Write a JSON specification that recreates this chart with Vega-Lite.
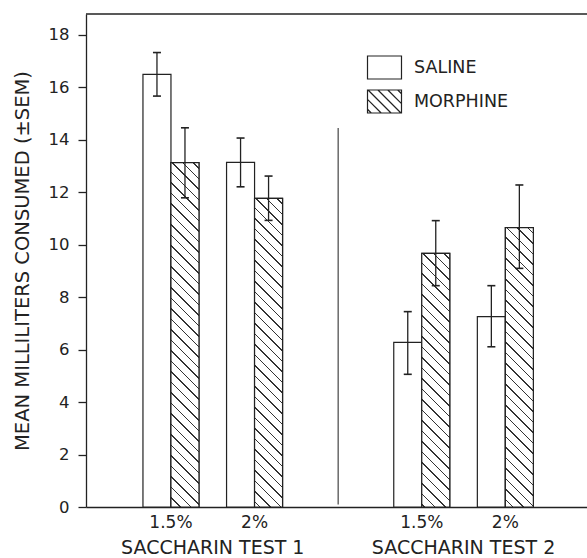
{
"$schema": "https://vega.github.io/schema/vega-lite/v6.json",
"autosize": "none",
"padding": {"left": 86, "top": 14, "right": 0, "bottom": 51},
"width": 501,
"height": 493,
"config": {"font": "DejaVu Sans", "view": {"stroke": null}, "axis": {"labelFont": "DejaVu Sans", "titleFont": "DejaVu Sans", "labelColor": "#222", "titleColor": "#222", "titleFontWeight": "normal", "grid": false}},
"data": {"values": [
{"cond":"T1 1.5%","treatment":"SALINE","mean":16.5,"lo":15.67,"hi":17.33},
{"cond":"T1 1.5%","treatment":"MORPHINE","mean":13.13,"lo":11.79,"hi":14.46},
{"cond":"T1 2%","treatment":"SALINE","mean":13.14,"lo":12.21,"hi":14.07},
{"cond":"T1 2%","treatment":"MORPHINE","mean":11.77,"lo":10.93,"hi":12.62},
{"cond":"T2 1.5%","treatment":"SALINE","mean":6.28,"lo":5.06,"hi":7.45},
{"cond":"T2 1.5%","treatment":"MORPHINE","mean":9.67,"lo":8.44,"hi":10.92},
{"cond":"T2 2%","treatment":"SALINE","mean":7.26,"lo":6.11,"hi":8.44},
{"cond":"T2 2%","treatment":"MORPHINE","mean":10.65,"lo":9.10,"hi":12.28}
]},
"layer": [
{"mark": {"type": "bar", "stroke": "#222", "strokeWidth": 1.2},
 "encoding": {
  "x": {"field": "cond", "type": "nominal", "title": null, "scale": {"domain": ["T1 1.5%","T1 2%","DIV","T2 1.5%","T2 2%"], "paddingInner": 0.33, "paddingOuter": 0.6615, "align": 0.515}, "axis": {"labelExpr": "datum.value == 'DIV' ? '' : slice(datum.value, 3)", "ticks": false, "labelPadding": 7, "labelFontSize": 17, "domainColor": "#222", "domainWidth": 1.3, "labelAngle": 0}},
  "xOffset": {"field": "treatment", "type": "nominal", "scale": {"domain": ["SALINE","MORPHINE"], "paddingInner": 0, "paddingOuter": 0}},
  "y": {"field": "mean", "type": "quantitative", "title": "MEAN MILLILITERS CONSUMED (±SEM)", "scale": {"domain": [0, 18.8], "nice": false}, "axis": {"values": [0,2,4,6,8,10,12,14,16,18], "tickSize": 8, "tickColor": "#222", "tickWidth": 1.3, "domainColor": "#222", "domainWidth": 1.3, "labelFontSize": 16.5, "labelPadding": 9, "titleFontSize": 19.5, "titlePadding": 16}},
  "fill": {"field": "treatment", "type": "nominal", "scale": {"domain": ["SALINE","MORPHINE"], "range": ["white","white"]},
   "legend": {"title": null, "orient": "none", "legendX": 281, "legendY": 36, "symbolSize": 1089, "symbolType": "M-1.03,-0.697H1.03V0.697H-1.03Z", "symbolStrokeColor": "#222", "symbolStrokeWidth": 1.2, "symbolFillColor": "white", "labelFont": "DejaVu Sans", "labelFontSize": 17.5, "labelColor": "#222", "labelOffset": 12, "rowPadding": 2,
    "encode": {"symbols": {"update": {"shape": {"signal": "datum.value === 'MORPHINE' ? 'M-1.03,-0.697H1.03V0.697H-1.03ZM0.803,-0.697L1.03,-0.47M0.203,-0.697L1.03,0.13M-0.397,-0.697L0.997,0.697M-0.997,-0.697L0.397,0.697M-1.03,-0.13L-0.203,0.697M-1.03,0.47L-0.803,0.697' : 'M-1.03,-0.697H1.03V0.697H-1.03Z'"}}}}}}
 }},
{"transform": [{"filter": "datum.treatment == 'MORPHINE' && datum.cond == 'T1 1.5%'"}],
 "mark": {"type": "bar", "stroke": "#222", "strokeWidth": 1.2, "fill": {"gradient": "linear", "x1": 1, "y1": 0, "x2": 0.9113, "y2": 1.0907, "stops": [
{"offset":0,"color":"#fff"},
{"offset":0.0132,"color":"#fff"},{"offset":0.0132,"color":"#333"},{"offset":0.0169,"color":"#333"},{"offset":0.0169,"color":"#fff"},
{"offset":0.0410,"color":"#fff"},{"offset":0.0410,"color":"#333"},{"offset":0.0447,"color":"#333"},{"offset":0.0447,"color":"#fff"},
{"offset":0.0688,"color":"#fff"},{"offset":0.0688,"color":"#333"},{"offset":0.0725,"color":"#333"},{"offset":0.0725,"color":"#fff"},
{"offset":0.0965,"color":"#fff"},{"offset":0.0965,"color":"#333"},{"offset":0.1002,"color":"#333"},{"offset":0.1002,"color":"#fff"},
{"offset":0.1243,"color":"#fff"},{"offset":0.1243,"color":"#333"},{"offset":0.1280,"color":"#333"},{"offset":0.1280,"color":"#fff"},
{"offset":0.1521,"color":"#fff"},{"offset":0.1521,"color":"#333"},{"offset":0.1558,"color":"#333"},{"offset":0.1558,"color":"#fff"},
{"offset":0.1799,"color":"#fff"},{"offset":0.1799,"color":"#333"},{"offset":0.1836,"color":"#333"},{"offset":0.1836,"color":"#fff"},
{"offset":0.2076,"color":"#fff"},{"offset":0.2076,"color":"#333"},{"offset":0.2113,"color":"#333"},{"offset":0.2113,"color":"#fff"},
{"offset":0.2354,"color":"#fff"},{"offset":0.2354,"color":"#333"},{"offset":0.2391,"color":"#333"},{"offset":0.2391,"color":"#fff"},
{"offset":0.2632,"color":"#fff"},{"offset":0.2632,"color":"#333"},{"offset":0.2669,"color":"#333"},{"offset":0.2669,"color":"#fff"},
{"offset":0.2910,"color":"#fff"},{"offset":0.2910,"color":"#333"},{"offset":0.2947,"color":"#333"},{"offset":0.2947,"color":"#fff"},
{"offset":0.3188,"color":"#fff"},{"offset":0.3188,"color":"#333"},{"offset":0.3225,"color":"#333"},{"offset":0.3225,"color":"#fff"},
{"offset":0.3465,"color":"#fff"},{"offset":0.3465,"color":"#333"},{"offset":0.3502,"color":"#333"},{"offset":0.3502,"color":"#fff"},
{"offset":0.3743,"color":"#fff"},{"offset":0.3743,"color":"#333"},{"offset":0.3780,"color":"#333"},{"offset":0.3780,"color":"#fff"},
{"offset":0.4021,"color":"#fff"},{"offset":0.4021,"color":"#333"},{"offset":0.4058,"color":"#333"},{"offset":0.4058,"color":"#fff"},
{"offset":0.4299,"color":"#fff"},{"offset":0.4299,"color":"#333"},{"offset":0.4336,"color":"#333"},{"offset":0.4336,"color":"#fff"},
{"offset":0.4576,"color":"#fff"},{"offset":0.4576,"color":"#333"},{"offset":0.4613,"color":"#333"},{"offset":0.4613,"color":"#fff"},
{"offset":0.4854,"color":"#fff"},{"offset":0.4854,"color":"#333"},{"offset":0.4891,"color":"#333"},{"offset":0.4891,"color":"#fff"},
{"offset":0.5132,"color":"#fff"},{"offset":0.5132,"color":"#333"},{"offset":0.5169,"color":"#333"},{"offset":0.5169,"color":"#fff"},
{"offset":0.5410,"color":"#fff"},{"offset":0.5410,"color":"#333"},{"offset":0.5447,"color":"#333"},{"offset":0.5447,"color":"#fff"},
{"offset":0.5688,"color":"#fff"},{"offset":0.5688,"color":"#333"},{"offset":0.5725,"color":"#333"},{"offset":0.5725,"color":"#fff"},
{"offset":0.5965,"color":"#fff"},{"offset":0.5965,"color":"#333"},{"offset":0.6002,"color":"#333"},{"offset":0.6002,"color":"#fff"},
{"offset":0.6243,"color":"#fff"},{"offset":0.6243,"color":"#333"},{"offset":0.6280,"color":"#333"},{"offset":0.6280,"color":"#fff"},
{"offset":0.6521,"color":"#fff"},{"offset":0.6521,"color":"#333"},{"offset":0.6558,"color":"#333"},{"offset":0.6558,"color":"#fff"},
{"offset":0.6799,"color":"#fff"},{"offset":0.6799,"color":"#333"},{"offset":0.6836,"color":"#333"},{"offset":0.6836,"color":"#fff"},
{"offset":0.7076,"color":"#fff"},{"offset":0.7076,"color":"#333"},{"offset":0.7113,"color":"#333"},{"offset":0.7113,"color":"#fff"},
{"offset":0.7354,"color":"#fff"},{"offset":0.7354,"color":"#333"},{"offset":0.7391,"color":"#333"},{"offset":0.7391,"color":"#fff"},
{"offset":0.7632,"color":"#fff"},{"offset":0.7632,"color":"#333"},{"offset":0.7669,"color":"#333"},{"offset":0.7669,"color":"#fff"},
{"offset":0.7910,"color":"#fff"},{"offset":0.7910,"color":"#333"},{"offset":0.7947,"color":"#333"},{"offset":0.7947,"color":"#fff"},
{"offset":0.8188,"color":"#fff"},{"offset":0.8188,"color":"#333"},{"offset":0.8225,"color":"#333"},{"offset":0.8225,"color":"#fff"},
{"offset":0.8465,"color":"#fff"},{"offset":0.8465,"color":"#333"},{"offset":0.8502,"color":"#333"},{"offset":0.8502,"color":"#fff"},
{"offset":0.8743,"color":"#fff"},{"offset":0.8743,"color":"#333"},{"offset":0.8780,"color":"#333"},{"offset":0.8780,"color":"#fff"},
{"offset":0.9021,"color":"#fff"},{"offset":0.9021,"color":"#333"},{"offset":0.9058,"color":"#333"},{"offset":0.9058,"color":"#fff"},
{"offset":0.9299,"color":"#fff"},{"offset":0.9299,"color":"#333"},{"offset":0.9336,"color":"#333"},{"offset":0.9336,"color":"#fff"},
{"offset":0.9576,"color":"#fff"},{"offset":0.9576,"color":"#333"},{"offset":0.9613,"color":"#333"},{"offset":0.9613,"color":"#fff"},
{"offset":0.9854,"color":"#fff"},{"offset":0.9854,"color":"#333"},{"offset":0.9891,"color":"#333"},{"offset":0.9891,"color":"#fff"},
{"offset":1,"color":"#fff"}]}},
 "encoding": {
  "x": {"field": "cond", "type": "nominal", "title": null, "scale": {"domain": ["T1 1.5%","T1 2%","DIV","T2 1.5%","T2 2%"], "paddingInner": 0.33, "paddingOuter": 0.6615, "align": 0.515}},
  "xOffset": {"field": "treatment", "type": "nominal", "scale": {"domain": ["SALINE","MORPHINE"], "paddingInner": 0, "paddingOuter": 0}},
  "y": {"field": "mean", "type": "quantitative", "title": "MEAN MILLILITERS CONSUMED (±SEM)"}
 }},
{"transform": [{"filter": "datum.treatment == 'MORPHINE' && datum.cond == 'T1 2%'"}],
 "mark": {"type": "bar", "stroke": "#222", "strokeWidth": 1.2, "fill": {"gradient": "linear", "x1": 1, "y1": 0, "x2": 0.8898, "y2": 1.2149, "stops": [
{"offset":0,"color":"#fff"},
{"offset":0.0132,"color":"#fff"},{"offset":0.0132,"color":"#333"},{"offset":0.0169,"color":"#333"},{"offset":0.0169,"color":"#fff"},
{"offset":0.0410,"color":"#fff"},{"offset":0.0410,"color":"#333"},{"offset":0.0447,"color":"#333"},{"offset":0.0447,"color":"#fff"},
{"offset":0.0688,"color":"#fff"},{"offset":0.0688,"color":"#333"},{"offset":0.0725,"color":"#333"},{"offset":0.0725,"color":"#fff"},
{"offset":0.0965,"color":"#fff"},{"offset":0.0965,"color":"#333"},{"offset":0.1002,"color":"#333"},{"offset":0.1002,"color":"#fff"},
{"offset":0.1243,"color":"#fff"},{"offset":0.1243,"color":"#333"},{"offset":0.1280,"color":"#333"},{"offset":0.1280,"color":"#fff"},
{"offset":0.1521,"color":"#fff"},{"offset":0.1521,"color":"#333"},{"offset":0.1558,"color":"#333"},{"offset":0.1558,"color":"#fff"},
{"offset":0.1799,"color":"#fff"},{"offset":0.1799,"color":"#333"},{"offset":0.1836,"color":"#333"},{"offset":0.1836,"color":"#fff"},
{"offset":0.2076,"color":"#fff"},{"offset":0.2076,"color":"#333"},{"offset":0.2113,"color":"#333"},{"offset":0.2113,"color":"#fff"},
{"offset":0.2354,"color":"#fff"},{"offset":0.2354,"color":"#333"},{"offset":0.2391,"color":"#333"},{"offset":0.2391,"color":"#fff"},
{"offset":0.2632,"color":"#fff"},{"offset":0.2632,"color":"#333"},{"offset":0.2669,"color":"#333"},{"offset":0.2669,"color":"#fff"},
{"offset":0.2910,"color":"#fff"},{"offset":0.2910,"color":"#333"},{"offset":0.2947,"color":"#333"},{"offset":0.2947,"color":"#fff"},
{"offset":0.3188,"color":"#fff"},{"offset":0.3188,"color":"#333"},{"offset":0.3225,"color":"#333"},{"offset":0.3225,"color":"#fff"},
{"offset":0.3465,"color":"#fff"},{"offset":0.3465,"color":"#333"},{"offset":0.3502,"color":"#333"},{"offset":0.3502,"color":"#fff"},
{"offset":0.3743,"color":"#fff"},{"offset":0.3743,"color":"#333"},{"offset":0.3780,"color":"#333"},{"offset":0.3780,"color":"#fff"},
{"offset":0.4021,"color":"#fff"},{"offset":0.4021,"color":"#333"},{"offset":0.4058,"color":"#333"},{"offset":0.4058,"color":"#fff"},
{"offset":0.4299,"color":"#fff"},{"offset":0.4299,"color":"#333"},{"offset":0.4336,"color":"#333"},{"offset":0.4336,"color":"#fff"},
{"offset":0.4576,"color":"#fff"},{"offset":0.4576,"color":"#333"},{"offset":0.4613,"color":"#333"},{"offset":0.4613,"color":"#fff"},
{"offset":0.4854,"color":"#fff"},{"offset":0.4854,"color":"#333"},{"offset":0.4891,"color":"#333"},{"offset":0.4891,"color":"#fff"},
{"offset":0.5132,"color":"#fff"},{"offset":0.5132,"color":"#333"},{"offset":0.5169,"color":"#333"},{"offset":0.5169,"color":"#fff"},
{"offset":0.5410,"color":"#fff"},{"offset":0.5410,"color":"#333"},{"offset":0.5447,"color":"#333"},{"offset":0.5447,"color":"#fff"},
{"offset":0.5688,"color":"#fff"},{"offset":0.5688,"color":"#333"},{"offset":0.5725,"color":"#333"},{"offset":0.5725,"color":"#fff"},
{"offset":0.5965,"color":"#fff"},{"offset":0.5965,"color":"#333"},{"offset":0.6002,"color":"#333"},{"offset":0.6002,"color":"#fff"},
{"offset":0.6243,"color":"#fff"},{"offset":0.6243,"color":"#333"},{"offset":0.6280,"color":"#333"},{"offset":0.6280,"color":"#fff"},
{"offset":0.6521,"color":"#fff"},{"offset":0.6521,"color":"#333"},{"offset":0.6558,"color":"#333"},{"offset":0.6558,"color":"#fff"},
{"offset":0.6799,"color":"#fff"},{"offset":0.6799,"color":"#333"},{"offset":0.6836,"color":"#333"},{"offset":0.6836,"color":"#fff"},
{"offset":0.7076,"color":"#fff"},{"offset":0.7076,"color":"#333"},{"offset":0.7113,"color":"#333"},{"offset":0.7113,"color":"#fff"},
{"offset":0.7354,"color":"#fff"},{"offset":0.7354,"color":"#333"},{"offset":0.7391,"color":"#333"},{"offset":0.7391,"color":"#fff"},
{"offset":0.7632,"color":"#fff"},{"offset":0.7632,"color":"#333"},{"offset":0.7669,"color":"#333"},{"offset":0.7669,"color":"#fff"},
{"offset":0.7910,"color":"#fff"},{"offset":0.7910,"color":"#333"},{"offset":0.7947,"color":"#333"},{"offset":0.7947,"color":"#fff"},
{"offset":0.8188,"color":"#fff"},{"offset":0.8188,"color":"#333"},{"offset":0.8225,"color":"#333"},{"offset":0.8225,"color":"#fff"},
{"offset":0.8465,"color":"#fff"},{"offset":0.8465,"color":"#333"},{"offset":0.8502,"color":"#333"},{"offset":0.8502,"color":"#fff"},
{"offset":0.8743,"color":"#fff"},{"offset":0.8743,"color":"#333"},{"offset":0.8780,"color":"#333"},{"offset":0.8780,"color":"#fff"},
{"offset":0.9021,"color":"#fff"},{"offset":0.9021,"color":"#333"},{"offset":0.9058,"color":"#333"},{"offset":0.9058,"color":"#fff"},
{"offset":0.9299,"color":"#fff"},{"offset":0.9299,"color":"#333"},{"offset":0.9336,"color":"#333"},{"offset":0.9336,"color":"#fff"},
{"offset":0.9576,"color":"#fff"},{"offset":0.9576,"color":"#333"},{"offset":0.9613,"color":"#333"},{"offset":0.9613,"color":"#fff"},
{"offset":0.9854,"color":"#fff"},{"offset":0.9854,"color":"#333"},{"offset":0.9891,"color":"#333"},{"offset":0.9891,"color":"#fff"},
{"offset":1,"color":"#fff"}]}},
 "encoding": {
  "x": {"field": "cond", "type": "nominal", "title": null, "scale": {"domain": ["T1 1.5%","T1 2%","DIV","T2 1.5%","T2 2%"], "paddingInner": 0.33, "paddingOuter": 0.6615, "align": 0.515}},
  "xOffset": {"field": "treatment", "type": "nominal", "scale": {"domain": ["SALINE","MORPHINE"], "paddingInner": 0, "paddingOuter": 0}},
  "y": {"field": "mean", "type": "quantitative", "title": "MEAN MILLILITERS CONSUMED (±SEM)"}
 }},
{"transform": [{"filter": "datum.treatment == 'MORPHINE' && datum.cond == 'T2 1.5%'"}],
 "mark": {"type": "bar", "stroke": "#222", "strokeWidth": 1.2, "fill": {"gradient": "linear", "x1": 1, "y1": 0, "x2": 0.8374, "y2": 1.4726, "stops": [
{"offset":0,"color":"#fff"},
{"offset":0.0132,"color":"#fff"},{"offset":0.0132,"color":"#333"},{"offset":0.0169,"color":"#333"},{"offset":0.0169,"color":"#fff"},
{"offset":0.0410,"color":"#fff"},{"offset":0.0410,"color":"#333"},{"offset":0.0447,"color":"#333"},{"offset":0.0447,"color":"#fff"},
{"offset":0.0688,"color":"#fff"},{"offset":0.0688,"color":"#333"},{"offset":0.0725,"color":"#333"},{"offset":0.0725,"color":"#fff"},
{"offset":0.0965,"color":"#fff"},{"offset":0.0965,"color":"#333"},{"offset":0.1002,"color":"#333"},{"offset":0.1002,"color":"#fff"},
{"offset":0.1243,"color":"#fff"},{"offset":0.1243,"color":"#333"},{"offset":0.1280,"color":"#333"},{"offset":0.1280,"color":"#fff"},
{"offset":0.1521,"color":"#fff"},{"offset":0.1521,"color":"#333"},{"offset":0.1558,"color":"#333"},{"offset":0.1558,"color":"#fff"},
{"offset":0.1799,"color":"#fff"},{"offset":0.1799,"color":"#333"},{"offset":0.1836,"color":"#333"},{"offset":0.1836,"color":"#fff"},
{"offset":0.2076,"color":"#fff"},{"offset":0.2076,"color":"#333"},{"offset":0.2113,"color":"#333"},{"offset":0.2113,"color":"#fff"},
{"offset":0.2354,"color":"#fff"},{"offset":0.2354,"color":"#333"},{"offset":0.2391,"color":"#333"},{"offset":0.2391,"color":"#fff"},
{"offset":0.2632,"color":"#fff"},{"offset":0.2632,"color":"#333"},{"offset":0.2669,"color":"#333"},{"offset":0.2669,"color":"#fff"},
{"offset":0.2910,"color":"#fff"},{"offset":0.2910,"color":"#333"},{"offset":0.2947,"color":"#333"},{"offset":0.2947,"color":"#fff"},
{"offset":0.3188,"color":"#fff"},{"offset":0.3188,"color":"#333"},{"offset":0.3225,"color":"#333"},{"offset":0.3225,"color":"#fff"},
{"offset":0.3465,"color":"#fff"},{"offset":0.3465,"color":"#333"},{"offset":0.3502,"color":"#333"},{"offset":0.3502,"color":"#fff"},
{"offset":0.3743,"color":"#fff"},{"offset":0.3743,"color":"#333"},{"offset":0.3780,"color":"#333"},{"offset":0.3780,"color":"#fff"},
{"offset":0.4021,"color":"#fff"},{"offset":0.4021,"color":"#333"},{"offset":0.4058,"color":"#333"},{"offset":0.4058,"color":"#fff"},
{"offset":0.4299,"color":"#fff"},{"offset":0.4299,"color":"#333"},{"offset":0.4336,"color":"#333"},{"offset":0.4336,"color":"#fff"},
{"offset":0.4576,"color":"#fff"},{"offset":0.4576,"color":"#333"},{"offset":0.4613,"color":"#333"},{"offset":0.4613,"color":"#fff"},
{"offset":0.4854,"color":"#fff"},{"offset":0.4854,"color":"#333"},{"offset":0.4891,"color":"#333"},{"offset":0.4891,"color":"#fff"},
{"offset":0.5132,"color":"#fff"},{"offset":0.5132,"color":"#333"},{"offset":0.5169,"color":"#333"},{"offset":0.5169,"color":"#fff"},
{"offset":0.5410,"color":"#fff"},{"offset":0.5410,"color":"#333"},{"offset":0.5447,"color":"#333"},{"offset":0.5447,"color":"#fff"},
{"offset":0.5688,"color":"#fff"},{"offset":0.5688,"color":"#333"},{"offset":0.5725,"color":"#333"},{"offset":0.5725,"color":"#fff"},
{"offset":0.5965,"color":"#fff"},{"offset":0.5965,"color":"#333"},{"offset":0.6002,"color":"#333"},{"offset":0.6002,"color":"#fff"},
{"offset":0.6243,"color":"#fff"},{"offset":0.6243,"color":"#333"},{"offset":0.6280,"color":"#333"},{"offset":0.6280,"color":"#fff"},
{"offset":0.6521,"color":"#fff"},{"offset":0.6521,"color":"#333"},{"offset":0.6558,"color":"#333"},{"offset":0.6558,"color":"#fff"},
{"offset":0.6799,"color":"#fff"},{"offset":0.6799,"color":"#333"},{"offset":0.6836,"color":"#333"},{"offset":0.6836,"color":"#fff"},
{"offset":0.7076,"color":"#fff"},{"offset":0.7076,"color":"#333"},{"offset":0.7113,"color":"#333"},{"offset":0.7113,"color":"#fff"},
{"offset":0.7354,"color":"#fff"},{"offset":0.7354,"color":"#333"},{"offset":0.7391,"color":"#333"},{"offset":0.7391,"color":"#fff"},
{"offset":0.7632,"color":"#fff"},{"offset":0.7632,"color":"#333"},{"offset":0.7669,"color":"#333"},{"offset":0.7669,"color":"#fff"},
{"offset":0.7910,"color":"#fff"},{"offset":0.7910,"color":"#333"},{"offset":0.7947,"color":"#333"},{"offset":0.7947,"color":"#fff"},
{"offset":0.8188,"color":"#fff"},{"offset":0.8188,"color":"#333"},{"offset":0.8225,"color":"#333"},{"offset":0.8225,"color":"#fff"},
{"offset":0.8465,"color":"#fff"},{"offset":0.8465,"color":"#333"},{"offset":0.8502,"color":"#333"},{"offset":0.8502,"color":"#fff"},
{"offset":0.8743,"color":"#fff"},{"offset":0.8743,"color":"#333"},{"offset":0.8780,"color":"#333"},{"offset":0.8780,"color":"#fff"},
{"offset":0.9021,"color":"#fff"},{"offset":0.9021,"color":"#333"},{"offset":0.9058,"color":"#333"},{"offset":0.9058,"color":"#fff"},
{"offset":0.9299,"color":"#fff"},{"offset":0.9299,"color":"#333"},{"offset":0.9336,"color":"#333"},{"offset":0.9336,"color":"#fff"},
{"offset":0.9576,"color":"#fff"},{"offset":0.9576,"color":"#333"},{"offset":0.9613,"color":"#333"},{"offset":0.9613,"color":"#fff"},
{"offset":0.9854,"color":"#fff"},{"offset":0.9854,"color":"#333"},{"offset":0.9891,"color":"#333"},{"offset":0.9891,"color":"#fff"},
{"offset":1,"color":"#fff"}]}},
 "encoding": {
  "x": {"field": "cond", "type": "nominal", "title": null, "scale": {"domain": ["T1 1.5%","T1 2%","DIV","T2 1.5%","T2 2%"], "paddingInner": 0.33, "paddingOuter": 0.6615, "align": 0.515}},
  "xOffset": {"field": "treatment", "type": "nominal", "scale": {"domain": ["SALINE","MORPHINE"], "paddingInner": 0, "paddingOuter": 0}},
  "y": {"field": "mean", "type": "quantitative", "title": "MEAN MILLILITERS CONSUMED (±SEM)"}
 }},
{"transform": [{"filter": "datum.treatment == 'MORPHINE' && datum.cond == 'T2 2%'"}],
 "mark": {"type": "bar", "stroke": "#222", "strokeWidth": 1.2, "fill": {"gradient": "linear", "x1": 1, "y1": 0, "x2": 0.8657, "y2": 1.3399, "stops": [
{"offset":0,"color":"#fff"},
{"offset":0.0132,"color":"#fff"},{"offset":0.0132,"color":"#333"},{"offset":0.0169,"color":"#333"},{"offset":0.0169,"color":"#fff"},
{"offset":0.0410,"color":"#fff"},{"offset":0.0410,"color":"#333"},{"offset":0.0447,"color":"#333"},{"offset":0.0447,"color":"#fff"},
{"offset":0.0688,"color":"#fff"},{"offset":0.0688,"color":"#333"},{"offset":0.0725,"color":"#333"},{"offset":0.0725,"color":"#fff"},
{"offset":0.0965,"color":"#fff"},{"offset":0.0965,"color":"#333"},{"offset":0.1002,"color":"#333"},{"offset":0.1002,"color":"#fff"},
{"offset":0.1243,"color":"#fff"},{"offset":0.1243,"color":"#333"},{"offset":0.1280,"color":"#333"},{"offset":0.1280,"color":"#fff"},
{"offset":0.1521,"color":"#fff"},{"offset":0.1521,"color":"#333"},{"offset":0.1558,"color":"#333"},{"offset":0.1558,"color":"#fff"},
{"offset":0.1799,"color":"#fff"},{"offset":0.1799,"color":"#333"},{"offset":0.1836,"color":"#333"},{"offset":0.1836,"color":"#fff"},
{"offset":0.2076,"color":"#fff"},{"offset":0.2076,"color":"#333"},{"offset":0.2113,"color":"#333"},{"offset":0.2113,"color":"#fff"},
{"offset":0.2354,"color":"#fff"},{"offset":0.2354,"color":"#333"},{"offset":0.2391,"color":"#333"},{"offset":0.2391,"color":"#fff"},
{"offset":0.2632,"color":"#fff"},{"offset":0.2632,"color":"#333"},{"offset":0.2669,"color":"#333"},{"offset":0.2669,"color":"#fff"},
{"offset":0.2910,"color":"#fff"},{"offset":0.2910,"color":"#333"},{"offset":0.2947,"color":"#333"},{"offset":0.2947,"color":"#fff"},
{"offset":0.3188,"color":"#fff"},{"offset":0.3188,"color":"#333"},{"offset":0.3225,"color":"#333"},{"offset":0.3225,"color":"#fff"},
{"offset":0.3465,"color":"#fff"},{"offset":0.3465,"color":"#333"},{"offset":0.3502,"color":"#333"},{"offset":0.3502,"color":"#fff"},
{"offset":0.3743,"color":"#fff"},{"offset":0.3743,"color":"#333"},{"offset":0.3780,"color":"#333"},{"offset":0.3780,"color":"#fff"},
{"offset":0.4021,"color":"#fff"},{"offset":0.4021,"color":"#333"},{"offset":0.4058,"color":"#333"},{"offset":0.4058,"color":"#fff"},
{"offset":0.4299,"color":"#fff"},{"offset":0.4299,"color":"#333"},{"offset":0.4336,"color":"#333"},{"offset":0.4336,"color":"#fff"},
{"offset":0.4576,"color":"#fff"},{"offset":0.4576,"color":"#333"},{"offset":0.4613,"color":"#333"},{"offset":0.4613,"color":"#fff"},
{"offset":0.4854,"color":"#fff"},{"offset":0.4854,"color":"#333"},{"offset":0.4891,"color":"#333"},{"offset":0.4891,"color":"#fff"},
{"offset":0.5132,"color":"#fff"},{"offset":0.5132,"color":"#333"},{"offset":0.5169,"color":"#333"},{"offset":0.5169,"color":"#fff"},
{"offset":0.5410,"color":"#fff"},{"offset":0.5410,"color":"#333"},{"offset":0.5447,"color":"#333"},{"offset":0.5447,"color":"#fff"},
{"offset":0.5688,"color":"#fff"},{"offset":0.5688,"color":"#333"},{"offset":0.5725,"color":"#333"},{"offset":0.5725,"color":"#fff"},
{"offset":0.5965,"color":"#fff"},{"offset":0.5965,"color":"#333"},{"offset":0.6002,"color":"#333"},{"offset":0.6002,"color":"#fff"},
{"offset":0.6243,"color":"#fff"},{"offset":0.6243,"color":"#333"},{"offset":0.6280,"color":"#333"},{"offset":0.6280,"color":"#fff"},
{"offset":0.6521,"color":"#fff"},{"offset":0.6521,"color":"#333"},{"offset":0.6558,"color":"#333"},{"offset":0.6558,"color":"#fff"},
{"offset":0.6799,"color":"#fff"},{"offset":0.6799,"color":"#333"},{"offset":0.6836,"color":"#333"},{"offset":0.6836,"color":"#fff"},
{"offset":0.7076,"color":"#fff"},{"offset":0.7076,"color":"#333"},{"offset":0.7113,"color":"#333"},{"offset":0.7113,"color":"#fff"},
{"offset":0.7354,"color":"#fff"},{"offset":0.7354,"color":"#333"},{"offset":0.7391,"color":"#333"},{"offset":0.7391,"color":"#fff"},
{"offset":0.7632,"color":"#fff"},{"offset":0.7632,"color":"#333"},{"offset":0.7669,"color":"#333"},{"offset":0.7669,"color":"#fff"},
{"offset":0.7910,"color":"#fff"},{"offset":0.7910,"color":"#333"},{"offset":0.7947,"color":"#333"},{"offset":0.7947,"color":"#fff"},
{"offset":0.8188,"color":"#fff"},{"offset":0.8188,"color":"#333"},{"offset":0.8225,"color":"#333"},{"offset":0.8225,"color":"#fff"},
{"offset":0.8465,"color":"#fff"},{"offset":0.8465,"color":"#333"},{"offset":0.8502,"color":"#333"},{"offset":0.8502,"color":"#fff"},
{"offset":0.8743,"color":"#fff"},{"offset":0.8743,"color":"#333"},{"offset":0.8780,"color":"#333"},{"offset":0.8780,"color":"#fff"},
{"offset":0.9021,"color":"#fff"},{"offset":0.9021,"color":"#333"},{"offset":0.9058,"color":"#333"},{"offset":0.9058,"color":"#fff"},
{"offset":0.9299,"color":"#fff"},{"offset":0.9299,"color":"#333"},{"offset":0.9336,"color":"#333"},{"offset":0.9336,"color":"#fff"},
{"offset":0.9576,"color":"#fff"},{"offset":0.9576,"color":"#333"},{"offset":0.9613,"color":"#333"},{"offset":0.9613,"color":"#fff"},
{"offset":0.9854,"color":"#fff"},{"offset":0.9854,"color":"#333"},{"offset":0.9891,"color":"#333"},{"offset":0.9891,"color":"#fff"},
{"offset":1,"color":"#fff"}]}},
 "encoding": {
  "x": {"field": "cond", "type": "nominal", "title": null, "scale": {"domain": ["T1 1.5%","T1 2%","DIV","T2 1.5%","T2 2%"], "paddingInner": 0.33, "paddingOuter": 0.6615, "align": 0.515}},
  "xOffset": {"field": "treatment", "type": "nominal", "scale": {"domain": ["SALINE","MORPHINE"], "paddingInner": 0, "paddingOuter": 0}},
  "y": {"field": "mean", "type": "quantitative", "title": "MEAN MILLILITERS CONSUMED (±SEM)"}
 }},
{"mark": {"type": "rule", "color": "#222", "strokeWidth": 1.3},
 "encoding": {
  "x": {"field": "cond", "type": "nominal", "title": null, "scale": {"domain": ["T1 1.5%","T1 2%","DIV","T2 1.5%","T2 2%"], "paddingInner": 0.33, "paddingOuter": 0.6615, "align": 0.515}},
  "xOffset": {"field": "treatment", "type": "nominal", "scale": {"domain": ["SALINE","MORPHINE"], "paddingInner": 0, "paddingOuter": 0}},
  "y": {"field": "lo", "type": "quantitative", "title": "MEAN MILLILITERS CONSUMED (±SEM)"},
  "y2": {"field": "hi"}
 }},
{"mark": {"type": "tick", "color": "#222", "size": 8, "thickness": 1.6, "opacity": 1},
 "encoding": {
  "x": {"field": "cond", "type": "nominal", "title": null, "scale": {"domain": ["T1 1.5%","T1 2%","DIV","T2 1.5%","T2 2%"], "paddingInner": 0.33, "paddingOuter": 0.6615, "align": 0.515}},
  "xOffset": {"field": "treatment", "type": "nominal", "scale": {"domain": ["SALINE","MORPHINE"], "paddingInner": 0, "paddingOuter": 0}},
  "y": {"field": "lo", "type": "quantitative", "title": "MEAN MILLILITERS CONSUMED (±SEM)"}
 }},
{"mark": {"type": "tick", "color": "#222", "size": 8, "thickness": 1.6, "opacity": 1},
 "encoding": {
  "x": {"field": "cond", "type": "nominal", "title": null, "scale": {"domain": ["T1 1.5%","T1 2%","DIV","T2 1.5%","T2 2%"], "paddingInner": 0.33, "paddingOuter": 0.6615, "align": 0.515}},
  "xOffset": {"field": "treatment", "type": "nominal", "scale": {"domain": ["SALINE","MORPHINE"], "paddingInner": 0, "paddingOuter": 0}},
  "y": {"field": "hi", "type": "quantitative", "title": "MEAN MILLILITERS CONSUMED (±SEM)"}
 }},
{"data": {"values": [{"cond": "DIV", "top": 14.45, "bottom": 0.1}]},
 "mark": {"type": "rule", "color": "#444", "strokeWidth": 1.2},
 "encoding": {
  "x": {"field": "cond", "type": "nominal", "title": null, "scale": {"domain": ["T1 1.5%","T1 2%","DIV","T2 1.5%","T2 2%"], "paddingInner": 0.33, "paddingOuter": 0.6615, "align": 0.515}},
  "y": {"field": "top", "type": "quantitative", "title": "MEAN MILLILITERS CONSUMED (±SEM)"},
  "y2": {"field": "bottom"}
 }},
{"data": {"values": [{"edge": "top"}]},
 "mark": {"type": "rule", "color": "#222", "strokeWidth": 1.3},
 "encoding": {"y": {"datum": 18.8}}},
{"data": {"values": [{"label": "SACCHARIN TEST 1", "cond": "T1 1.5%"}, {"label": "SACCHARIN TEST 2", "cond": "T2 1.5%"}]},
 "mark": {"type": "text", "font": "DejaVu Sans", "fontSize": 19, "color": "#222", "dy": 41, "baseline": "middle", "align": "center"},
 "encoding": {
  "x": {"field": "cond", "type": "nominal", "title": null, "bandPosition": 1.246, "scale": {"domain": ["T1 1.5%","T1 2%","DIV","T2 1.5%","T2 2%"], "paddingInner": 0.33, "paddingOuter": 0.6615, "align": 0.515}},
  "y": {"datum": 0},
  "text": {"field": "label"}
 }}
]
}
